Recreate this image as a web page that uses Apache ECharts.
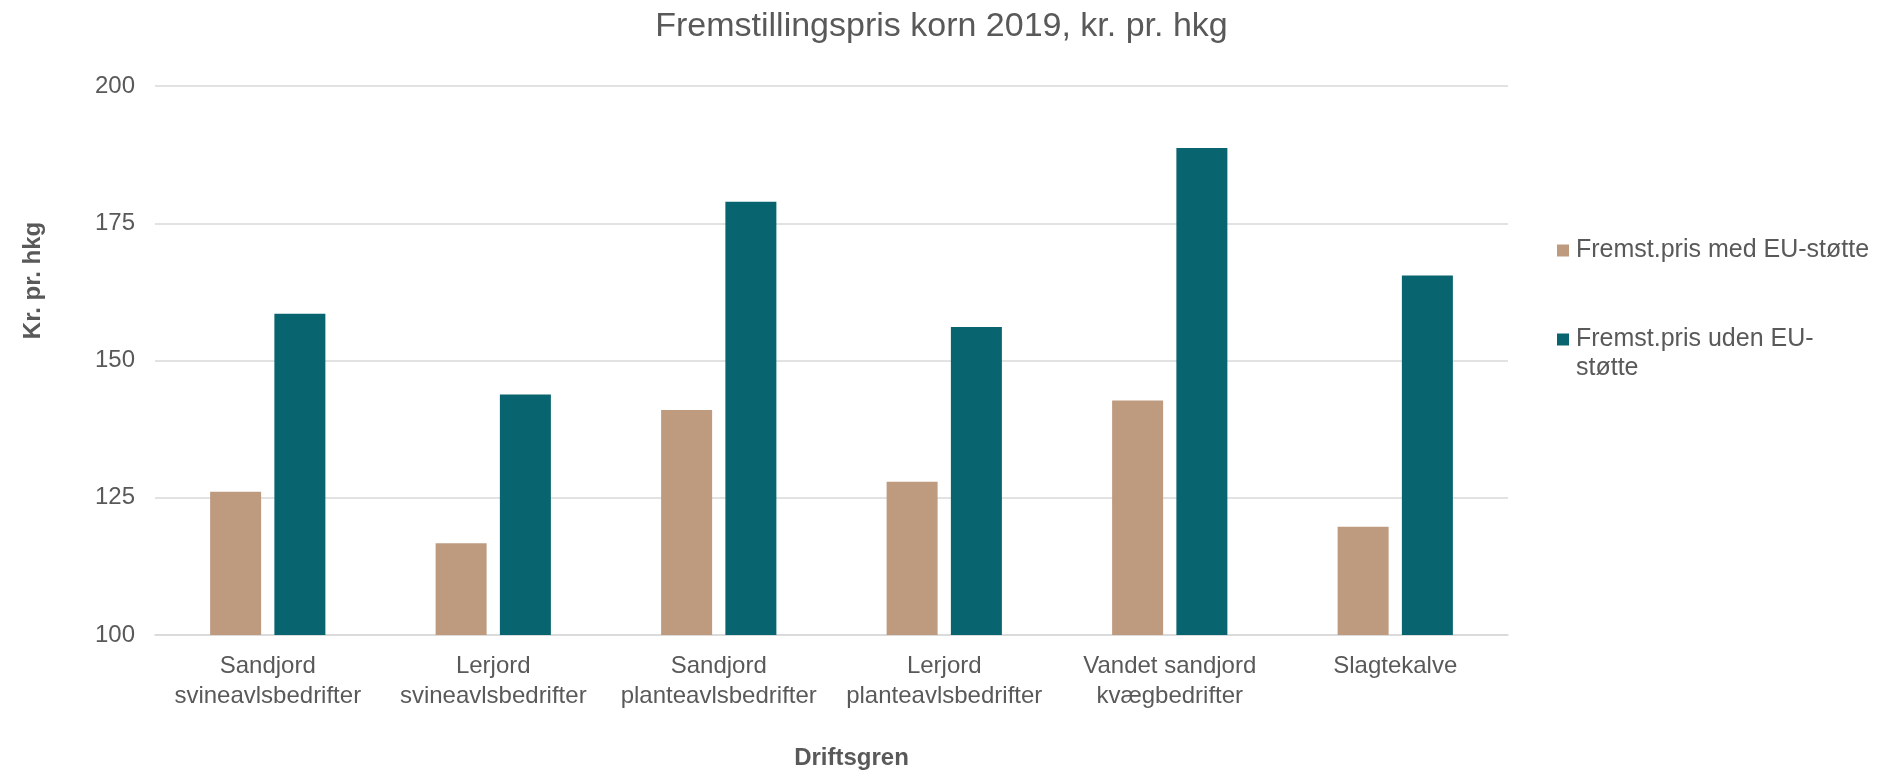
<!DOCTYPE html>
<html>
<head>
<meta charset="utf-8">
<title>Fremstillingspris korn 2019</title>
<script src="https://cdn.jsdelivr.net/npm/echarts@6/dist/echarts.min.js"></script>
<style>
  html, body { margin: 0; padding: 0; background: #fff; }
  #main { width: 1883px; height: 771px; }
</style>
</head>
<body>
<div id="main"></div>
<script>
// data
var categories = [
  'Sandjord\nsvineavlsbedrifter',
  'Lerjord\nsvineavlsbedrifter',
  'Sandjord\nplanteavlsbedrifter',
  'Lerjord\nplanteavlsbedrifter',
  'Vandet sandjord\nkvægbedrifter',
  'Slagtekalve'
];
var medStotte = [126.1, 116.7, 141.0, 127.9, 142.7, 119.7];
var udenStotte = [158.5, 143.8, 178.9, 156.1, 188.7, 165.5];
var yTicks = { min: 100, max: 200, interval: 25 };

var txt = '#595959';
var font = "'Liberation Sans', Arial, sans-serif";

var chart = echarts.init(document.getElementById('main'));
chart.setOption({
  animation: false,
  color: ['#BE9A7F', '#08646F'],
  textStyle: { fontFamily: font, color: txt },
  title: {
    text: 'Fremstillingspris korn 2019, kr. pr. hkg',
    left: 'center',
    top: 5,
    textStyle: { fontFamily: font, fontSize: 34, fontWeight: 'normal', color: txt }
  },
  legend: {
    orient: 'vertical',
    left: 1557,
    top: 236,
    padding: 0,
    itemWidth: 12,
    itemHeight: 12,
    itemGap: 31,
    icon: 'rect',
    textStyle: { fontFamily: font, fontSize: 25, lineHeight: 29, color: txt, padding: [0, 0, 0, 2] },
    // the second entry wraps like in the original
    formatter: function (name) {
      if (name === 'Fremst.pris uden EU-støtte') {
        return '\nFremst.pris uden EU-\nstøtte';
      }
      return name;
    }
  },
  grid: {
    left: 155,
    right: 375,
    top: 86,
    bottom: 136,
    outerBoundsMode: 'none'
  },
  xAxis: {
    type: 'category',
    data: categories,
    name: 'Driftsgren',
    nameLocation: 'middle',
    nameGap: 111,
    nameTextStyle: { fontFamily: font, fontSize: 24, fontWeight: 'bold', color: txt, padding: [0, 0, 0, 40] },
    axisLine: { lineStyle: { color: '#D9D9D9', width: 1.5 } },
    axisTick: { show: false },
    axisLabel: { fontFamily: font, fontSize: 24, lineHeight: 30, color: txt, margin: 16, interval: 0 }
  },
  yAxis: {
    type: 'value',
    min: yTicks.min,
    max: yTicks.max,
    interval: yTicks.interval,
    name: 'Kr. pr. hkg',
    nameLocation: 'middle',
    nameGap: 110,
    nameRotate: 90,
    nameTextStyle: { fontFamily: font, fontSize: 24, fontWeight: 'bold', color: txt, padding: [0, 0, 0, 160] },
    axisLine: { show: false },
    axisTick: { show: false },
    axisLabel: { fontFamily: font, fontSize: 24, color: txt, margin: 20 },
    splitLine: { lineStyle: { color: '#D9D9D9', width: 1.5 } }
  },
  series: [{
    name: 'Fremst.pris med EU-støtte',
    type: 'bar',
    barWidth: 51,
    barGap: '26%',
    data: medStotte
  }, {
    name: 'Fremst.pris uden EU-støtte',
    type: 'bar',
    barWidth: 51,
    barGap: '26%',
    data: udenStotte
  }]
});
</script>
</body>
</html>
